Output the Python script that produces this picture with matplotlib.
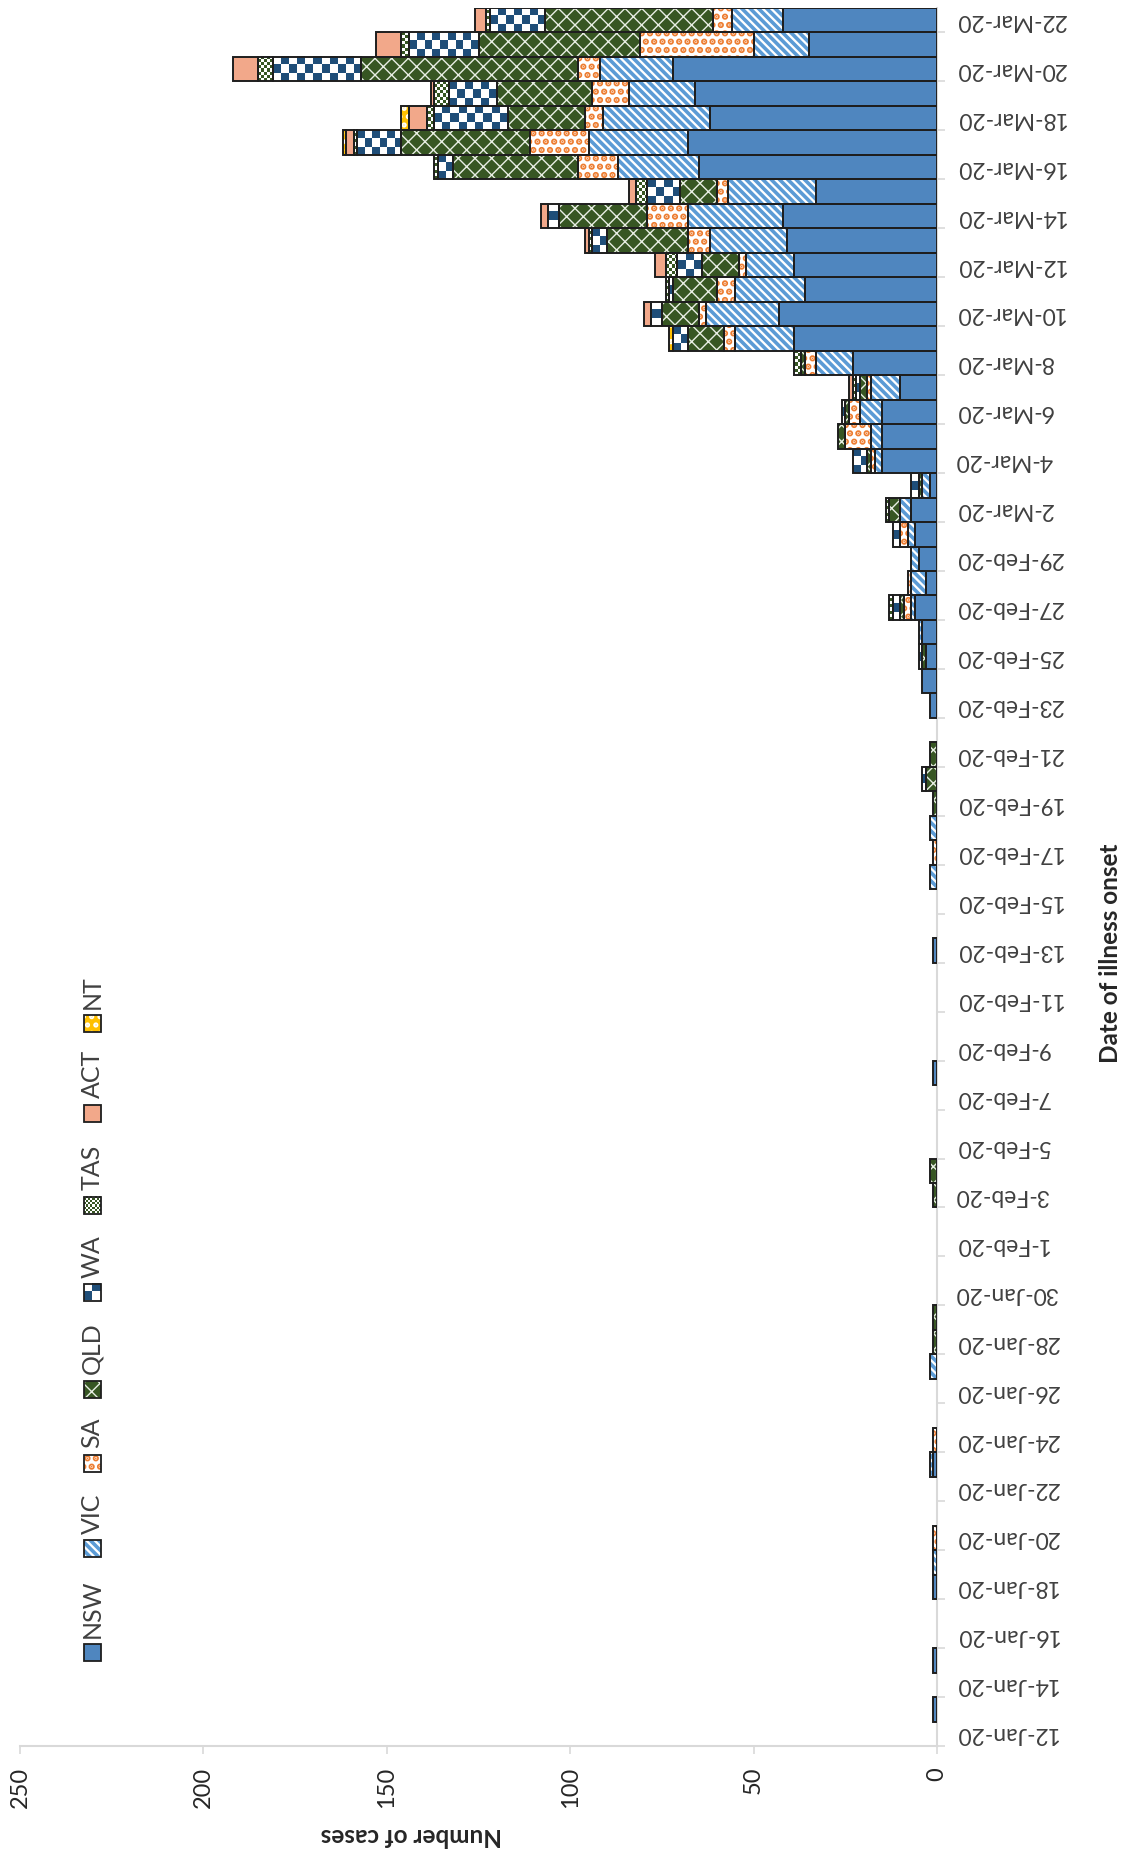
import numpy as np
import pandas as pd
import matplotlib
matplotlib.use("Agg")
import matplotlib.pyplot as plt
from matplotlib.colors import ListedColormap
from matplotlib.patches import Rectangle

# Broj slučajeva po danu početka bolesti, od 12-Jan-20 do 22-Mar-20
dates = pd.date_range("2020-01-12", "2020-03-22")
date_labels = [f"{d.day}-{d.strftime('%b-%y')}" for d in dates]

states = ["NSW", "VIC", "SA", "QLD", "WA", "TAS", "ACT", "NT"]

NSW = [0, 1, 0, 1, 0, 0, 1, 0, 0, 0,
       0, 1, 0, 0, 0, 0, 0, 0, 0, 0,
       0, 0, 0, 0, 0, 0, 0, 1, 0, 0,
       0, 0, 1, 0, 0, 0, 0, 0, 0, 0,
       0, 0, 2, 4, 3, 4, 6, 3, 5, 6,
       7, 2, 15, 15, 15, 10, 23, 39, 43, 36,
       39, 41, 42, 33, 65, 68, 62, 66, 72, 35,
       42]
VIC = [0, 0, 0, 0, 0, 0, 0, 1, 0, 0,
       0, 1, 0, 0, 0, 2, 0, 0, 0, 0,
       0, 0, 0, 0, 0, 0, 0, 0, 0, 0,
       0, 0, 0, 0, 0, 2, 0, 2, 0, 0,
       0, 0, 0, 0, 0, 1, 1, 4, 2, 2,
       3, 2, 2, 3, 6, 8, 10, 16, 20, 19,
       13, 21, 26, 24, 22, 27, 29, 18, 20, 15,
       14]
SA = [0, 0, 0, 0, 0, 0, 0, 0, 1, 0,
      0, 0, 1, 0, 0, 0, 0, 0, 0, 0,
      0, 0, 0, 0, 0, 0, 0, 0, 0, 0,
      0, 0, 0, 0, 0, 0, 1, 0, 0, 0,
      0, 0, 0, 0, 0, 0, 2, 1, 0, 2,
      0, 0, 1, 7, 3, 1, 3, 3, 2, 5,
      2, 6, 11, 3, 11, 16, 5, 10, 6, 31,
      5]
QLD = [0, 0, 0, 0, 0, 0, 0, 0, 0, 0,
       0, 0, 0, 0, 0, 0, 1, 1, 0, 0,
       0, 0, 1, 2, 0, 0, 0, 0, 0, 0,
       0, 0, 0, 0, 0, 0, 0, 0, 1, 3,
       2, 0, 0, 0, 1, 0, 1, 0, 0, 0,
       3, 1, 1, 2, 1, 2, 1, 10, 10, 12,
       10, 22, 24, 10, 34, 35, 21, 26, 59, 44,
       46]
WA = [0, 0, 0, 0, 0, 0, 0, 0, 0, 0,
      0, 0, 0, 0, 0, 0, 0, 0, 0, 0,
      0, 0, 0, 0, 0, 0, 0, 0, 0, 0,
      0, 0, 0, 0, 0, 0, 0, 0, 0, 1,
      0, 0, 0, 0, 1, 0, 2, 0, 0, 2,
      0, 2, 4, 0, 1, 1, 0, 4, 3, 1,
      7, 4, 3, 9, 4, 12, 20, 13, 24, 19,
      15]
TAS = [0, 0, 0, 0, 0, 0, 0, 0, 0, 0,
       0, 0, 0, 0, 0, 0, 0, 0, 0, 0,
       0, 0, 0, 0, 0, 0, 0, 0, 0, 0,
       0, 0, 0, 0, 0, 0, 0, 0, 0, 0,
       0, 0, 0, 0, 0, 0, 1, 0, 0, 0,
       1, 0, 0, 0, 0, 1, 2, 0, 0, 1,
       3, 1, 0, 3, 1, 1, 2, 4, 4, 2,
       1]
ACT = [0, 0, 0, 0, 0, 0, 0, 0, 0, 0,
       0, 0, 0, 0, 0, 0, 0, 0, 0, 0,
       0, 0, 0, 0, 0, 0, 0, 0, 0, 0,
       0, 0, 0, 0, 0, 0, 0, 0, 0, 0,
       0, 0, 0, 0, 0, 0, 0, 0, 0, 0,
       0, 0, 0, 0, 0, 1, 0, 0, 2, 0,
       3, 1, 2, 2, 0, 2, 5, 1, 7, 7,
       3]
NT = [0, 0, 0, 0, 0, 0, 0, 0, 0, 0,
      0, 0, 0, 0, 0, 0, 0, 0, 0, 0,
      0, 0, 0, 0, 0, 0, 0, 0, 0, 0,
      0, 0, 0, 0, 0, 0, 0, 0, 0, 0,
      0, 0, 0, 0, 0, 0, 0, 0, 0, 0,
      0, 0, 0, 0, 0, 0, 0, 1, 0, 0,
      0, 0, 0, 0, 0, 1, 2, 0, 0, 0,
      0]

value_ticks = [0, 50, 100, 150, 200, 250]

# stil za svaku državu: podloga, šrafura, boja i debljina šrafure, šahovska polja
styles = {
    "NSW": dict(face="#4F86BF", hatch=None, hcolor="#4F86BF", hlw=1, checker=None),
    "VIC": dict(face="white", hatch="\\\\\\\\", hcolor="#5B9BD5", hlw=2.6, checker=None),
    "SA": dict(face="white", hatch="..", hcolor="#ED7D31", hlw=3.2, checker=None),
    "QLD": dict(face="#375623", hatch="xx", hcolor="#E8EEE4", hlw=1.0, checker=None),
    "WA": dict(face="#1F4E79", hatch=None, hcolor="#1F4E79", hlw=1, checker=8),
    "TAS": dict(face="#375623", hatch=None, hcolor="#375623", hlw=1, checker=3),
    "ACT": dict(face="#F2A88A", hatch=None, hcolor="#F2A88A", hlw=1, checker=None),
    "NT": dict(face="#FFC000", hatch="..", hcolor="white", hlw=2.5, checker=None),
}

plt.rcParams["font.family"] = ["Lato", "DejaVu Sans"]
plt.rcParams["hatch.linewidth"] = 2.0

W, H = 1131, 1854
fig = plt.figure(figsize=(W / 100, H / 100), dpi=100)
ax_left, ax_right, ax_top, ax_bot = 20, 937, 8, 1746
ax = fig.add_axes([ax_left / W, 1 - ax_bot / H, (ax_right - ax_left) / W, (ax_bot - ax_top) / H])

n = len(dates)
px_per_unit = (ax_right - ax_left) / 250
px_per_row = (ax_bot - ax_top) / n
edge = "#1E1E1E"


def checker(axis, x0, x1, y0, y1, ncols, nrows, dark, z):
    grid = np.indices((max(nrows, 1), max(ncols, 1))).sum(axis=0) % 2
    axis.imshow(grid, extent=(x0, x1, y0, y1), cmap=ListedColormap(["white", dark]),
                vmin=0, vmax=1, aspect="auto", interpolation="nearest", zorder=z)


def set_hlw(patch, lw):
    try:
        patch.set_hatch_linewidth(lw)
    except AttributeError:
        pass


idx = np.arange(n)
left = np.zeros(n)
data = [NSW, VIC, SA, QLD, WA, TAS, ACT, NT]
for name, vals in zip(states, data):
    vals = np.array(vals, dtype=float)
    st = styles[name]
    m = vals > 0
    if st["checker"]:
        cell = st["checker"]
        for i in idx[m]:
            ncols = int(round(vals[i] * px_per_unit / cell))
            nrows = int(round(px_per_row / cell))
            checker(ax, left[i], left[i] + vals[i], i - 0.5, i + 0.5, ncols, nrows, st["face"], 1.5)
    else:
        bars = ax.barh(idx[m], vals[m], left=left[m], height=1.0, color=st["face"],
                       edgecolor=st["hcolor"], hatch=st["hatch"], linewidth=0, zorder=2)
        for p in bars:
            set_hlw(p, st["hlw"])
    ax.barh(idx[m], vals[m], left=left[m], height=1.0, fill=False,
            edgecolor=edge, linewidth=1.4, zorder=3)
    left += vals

ax.set_xlim(250, 0)
ax.set_ylim(-0.5, n - 0.5)

for s in ["left", "top"]:
    ax.spines[s].set_visible(False)
for s in ["right", "bottom"]:
    ax.spines[s].set_color("#D9D9D9")
    ax.spines[s].set_linewidth(1.5)

ax.set_xticks(value_ticks)
ax.set_xticklabels([str(v) for v in value_ticks], rotation=90, fontsize=17, color="#262626")
ax.tick_params(axis="x", direction="out", length=6, width=1.2, color="#D9D9D9", pad=9)

ax.yaxis.tick_right()
ax.set_yticks(np.arange(-0.5, n, 2))
ax.set_yticklabels([])
ax.tick_params(axis="y", which="major", direction="out", length=6, width=1.2, color="#D9D9D9")
ax.set_yticks(idx[::2], minor=True)
ax.set_yticklabels([date_labels[i] for i in idx[::2]], minor=True)
ax.tick_params(axis="y", which="minor", length=0, pad=13, labelsize=16.5, labelcolor="#404040")
for lab in ax.get_yticklabels(minor=True):
    lab.set_rotation(180)
    lab.set_ha("left")
    lab.set_va("center")

fig.text(411 / W, 1 - 1836 / H, "Number of cases", rotation=180, ha="center", va="center",
         fontsize=17.5, fontweight="bold", color="#262626")
fig.text(1111 / W, 1 - 953 / H, "Date of illness onset", rotation=90, ha="center", va="center",
         fontsize=17.5, fontweight="bold", color="#262626")

# legenda, okrenuta kao i grafikon
lax = fig.add_axes([0, 0, 1, 1])
lax.set_facecolor("none")
lax.axis("off")
key_centers = [1652, 1548, 1463, 1389, 1292, 1205, 1113, 1023]
key_x, key = 92, 17
for name, yc in zip(states, key_centers):
    st = styles[name]
    x0, y0 = key_x - key / 2, yc - key / 2
    if st["checker"]:
        c = max(2, st["checker"] - 2)
        checker(lax, x0, x0 + key, y0 + key, y0, key // c, key // c, st["face"], 2)
    else:
        p = Rectangle((x0, y0), key, key, facecolor=st["face"], edgecolor=st["hcolor"],
                      hatch=st["hatch"], linewidth=0, zorder=2)
        set_hlw(p, st["hlw"])
        lax.add_patch(p)
    lax.add_patch(Rectangle((x0, y0), key, key, fill=False, edgecolor=edge, linewidth=1.3, zorder=3))
    lax.text(key_x, y0 - 6, name, rotation=90, ha="center", va="bottom", fontsize=18, color="#404040")
lax.set_xlim(0, W)
lax.set_ylim(H, 0)

fig.savefig("out.png", dpi=100)
